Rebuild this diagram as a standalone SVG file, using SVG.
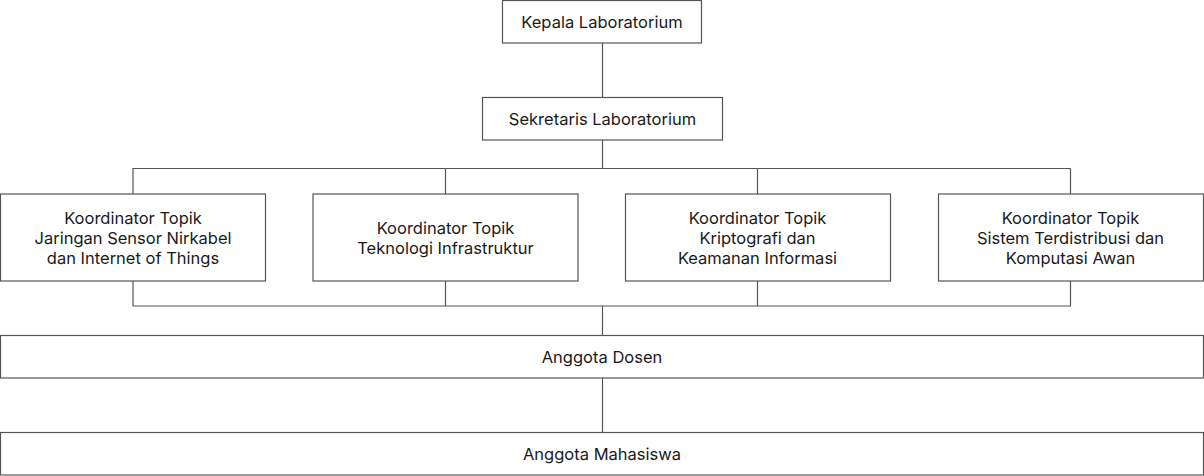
<svg xmlns="http://www.w3.org/2000/svg" width="1204" height="476" viewBox="0 0 1204 476">
<style>
.box{fill:#fff;stroke:#555;stroke-width:1.2}
.t{font-family:Inter,"Noto Sans",sans-serif;font-size:16.5px;fill:#1a1a1a;text-anchor:middle}
.c{fill:none;stroke:#555;stroke-width:1.2}
</style>
<rect width="1204" height="476" fill="#fff"/>
<g id="connectors">
<path class="c" d="M602.5 43V97.5M602.5 140V168.5H133V194M445.5 168.5V194M757.5 168.5V194M1070.5 168.5H133M1070.5 168.5V194"/>
<path class="c" d="M133 281V306H1070.5V281M445.5 281V306M757.5 281V306M602.5 306V335.5M602.5 378V432.5"/>
</g>
<g id="kepala"><rect class="box" x="502.5" y="0.5" width="199" height="42.5"/><text class="t" x="602" y="27.5">Kepala Laboratorium</text></g>
<g id="sekretaris"><rect class="box" x="482.5" y="97.5" width="240" height="42.5"/><text class="t" x="602.5" y="124.5">Sekretaris Laboratorium</text></g>
<g id="k1"><rect class="box" x="0.5" y="194" width="265" height="87"/><text class="t" x="133" y="223.5">Koordinator Topik<tspan x="133" dy="20">Jaringan Sensor Nirkabel</tspan><tspan x="133" dy="20">dan Internet of Things</tspan></text></g>
<g id="k2"><rect class="box" x="313" y="194" width="265" height="87"/><text class="t" x="445.5" y="233.5">Koordinator Topik<tspan x="445.5" dy="20">Teknologi Infrastruktur</tspan></text></g>
<g id="k3"><rect class="box" x="625.5" y="194" width="265" height="87"/><text class="t" x="757.5" y="223.5">Koordinator Topik<tspan x="757.5" dy="20">Kriptografi dan</tspan><tspan x="757.5" dy="20">Keamanan Informasi</tspan></text></g>
<g id="k4"><rect class="box" x="938.5" y="194" width="265" height="87"/><text class="t" x="1070.5" y="223.5">Koordinator Topik<tspan x="1070.5" dy="20">Sistem Terdistribusi dan</tspan><tspan x="1070.5" dy="20">Komputasi Awan</tspan></text></g>
<g id="dosen"><rect class="box" x="0.5" y="335.5" width="1203" height="42.5"/><text class="t" x="602" y="362.5">Anggota Dosen</text></g>
<g id="mahasiswa"><rect class="box" x="0.5" y="432.5" width="1203" height="42.5"/><text class="t" x="602" y="459.5">Anggota Mahasiswa</text></g>
</svg>
